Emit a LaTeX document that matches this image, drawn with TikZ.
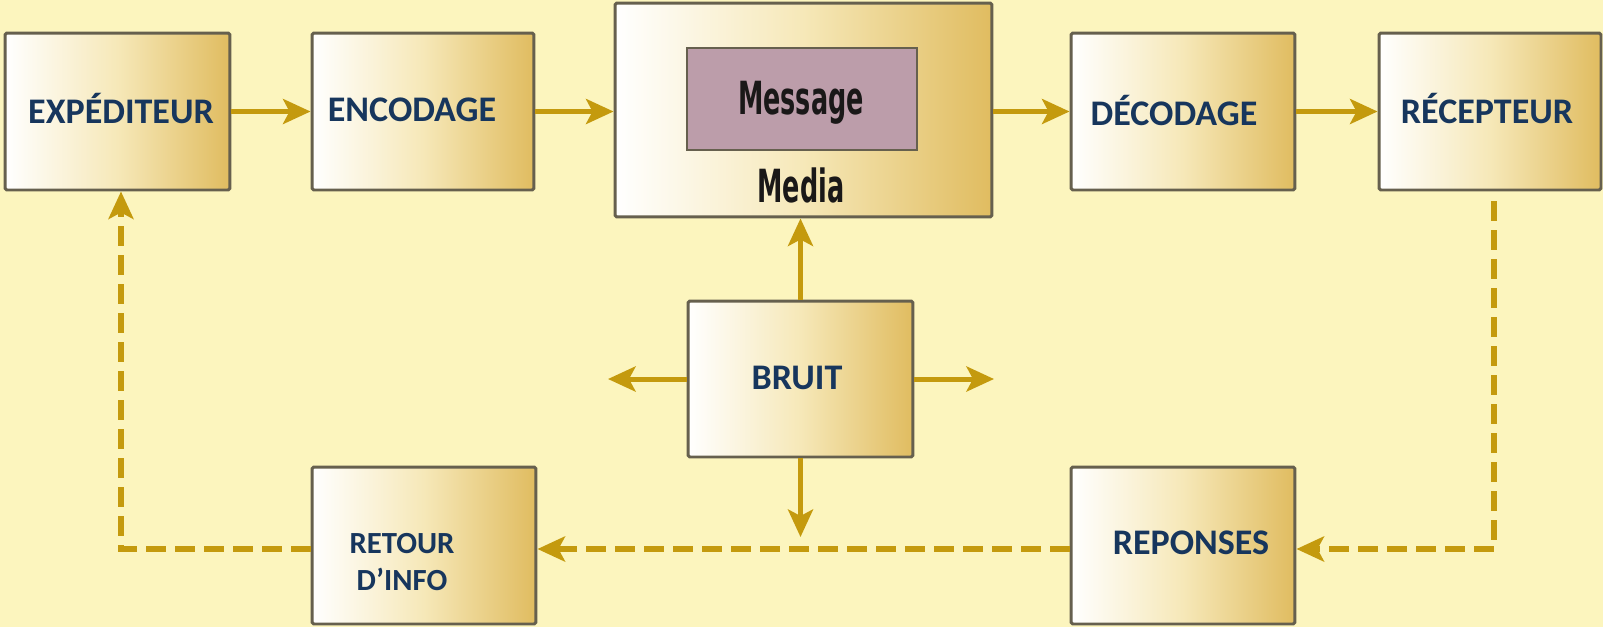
\documentclass[tikz,border=0pt]{standalone}
\usepackage{fontspec}
\usepackage{graphicx}
\usetikzlibrary{arrows.meta}
\setmainfont{Carlito}
\newfontfamily\msgfont{DejaVu Sans Condensed}
\definecolor{bg}{RGB}{252,245,190}
\definecolor{gold}{RGB}{196,154,14}
\definecolor{boxgold}{RGB}{224,188,96}
\definecolor{boxmid}{RGB}{246,232,184}
\definecolor{boxline}{RGB}{102,96,78}
\definecolor{navy}{RGB}{23,54,93}
\definecolor{mauve}{RGB}{188,157,170}
\definecolor{ink}{RGB}{26,24,24}
\begin{document}
\begin{tikzpicture}[x=0.02cm,y=-0.02cm,
  box/.style={draw=boxline, line width=1.7pt, left color=white, right color=boxgold, middle color=boxmid, rounded corners=1pt, inner sep=0pt},
  lbl/.style={text=navy, font=\bfseries\fontsize{20.5}{24}\selectfont, inner sep=0pt, anchor=base},
  smalllbl/.style={text=navy, font=\bfseries\fontsize{17.5}{20}\selectfont, inner sep=0pt, anchor=base},
  msgtxt/.style={text=ink, font=\msgfont\bfseries\fontsize{26}{30}\selectfont, inner sep=0pt},
  tipstyle/.style={-{Stealth[length=0.55cm,width=0.5cm,inset=0.13cm]}},
  flow/.style={draw=gold, line width=0.1cm, tipstyle},
  fb/.style={draw=gold, line width=0.12cm, dash pattern=on 0.4cm off 0.18cm, tipstyle}]
\useasboundingbox (0,0) rectangle (1603,627);
\fill[bg] (0,0) rectangle (1603,627);
% boxes
\node[box, minimum width=4.5cm, minimum height=3.14cm] (exp) at (117.5,111.5) {};
\node[box, minimum width=4.44cm, minimum height=3.14cm] (enc) at (423,111.5) {};
\node[box, minimum width=7.54cm, minimum height=4.28cm] (media) at (803.5,110) {};
\node[draw=boxline, line width=1.5pt, fill=mauve, minimum width=4.6cm, minimum height=2.04cm, inner sep=0pt] (msg) at (802,99) {};
\node[box, minimum width=4.48cm, minimum height=3.14cm] (dec) at (1183,111.5) {};
\node[box, minimum width=4.44cm, minimum height=3.14cm] (rec) at (1490,111.5) {};
\node[box, minimum width=4.5cm, minimum height=3.12cm] (bruit) at (800.5,379) {};
\node[box, minimum width=4.48cm, minimum height=3.14cm] (ret) at (424,545.5) {};
\node[box, minimum width=4.48cm, minimum height=3.14cm] (rep) at (1183,545.5) {};
% labels
\node[lbl] (expT) at (121,123) {EXPÉDITEUR};
\node[lbl] (encT) at (412,121) {ENCODAGE};
\node[msgtxt] (msgT) at (801,103) {\scalebox{0.62}[1]{Message}};
\node[msgtxt] (mediaT) at (801,185) {\scalebox{0.62}[1]{Media}};
\node[lbl] (decT) at (1174,125) {DÉCODAGE};
\node[lbl] (recT) at (1487,123) {RÉCEPTEUR};
\node[lbl] (bruitT) at (797,389) {BRUIT};
\node[smalllbl] (retT1) at (402,553) {RETOUR};
\node[smalllbl] (retT2) at (402,590) {D’INFO};
\node[lbl] (repT) at (1191,554) {REPONSES};
% free ends
\coordinate (nL) at (608,379);
\coordinate (nR) at (994,379);
\coordinate (nD) at (800.5,537);
% main flow
\draw[flow] (exp.east) -- (enc.west);
\draw[flow] (enc.east) -- (enc.east -| media.west);
\draw[flow] (media.east |- dec.west) -- (dec.west);
\draw[flow] (dec.east) -- (rec.west);
% noise
\draw[flow] (bruit.north) -- (bruit.north |- media.south);
\draw[flow] (bruit.west) -- (nL);
\draw[flow] (bruit.east) -- (nR);
\draw[flow] (bruit.south) -- (nD);
% feedback
\draw[fb] ([xshift=0.08cm,yshift=-0.2cm]rec.south) |- ([yshift=-0.07cm]rep.east);
\draw[fb] ([yshift=-0.07cm]rep.west) -- ([yshift=-0.07cm]ret.east);
\draw[fb] ([yshift=-0.07cm]ret.west) -| ([xshift=0.07cm]exp.south);
\end{tikzpicture}
\end{document}
